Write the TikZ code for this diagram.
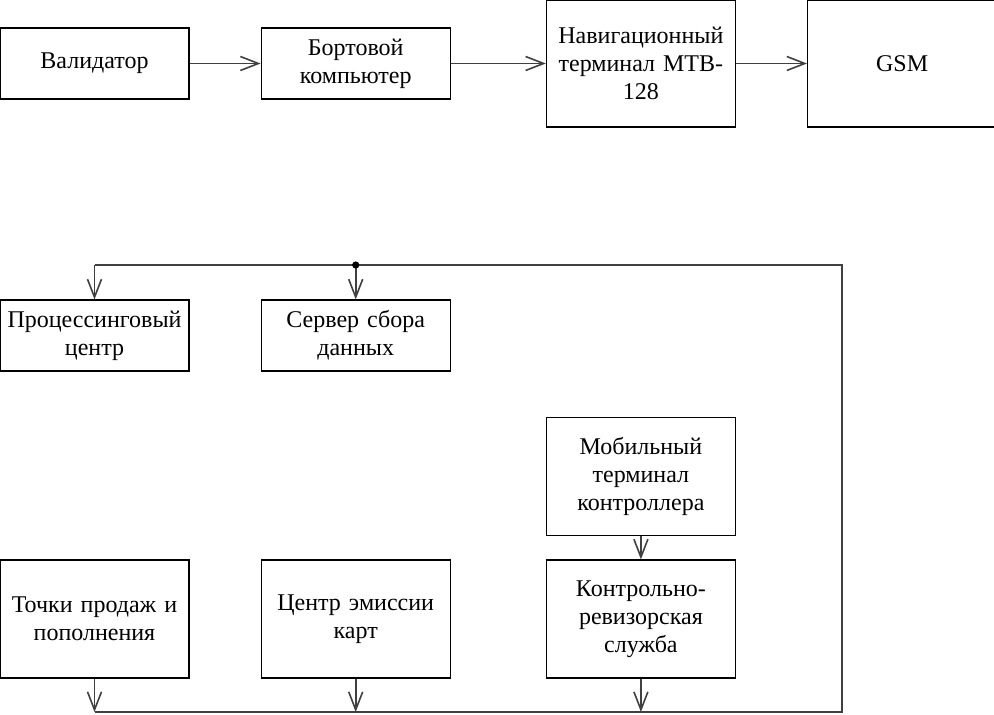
\documentclass[tikz,border=0pt]{standalone}
\usepackage{fontspec}
\setmainfont{Liberation Serif}
\usetikzlibrary{positioning,arrows.meta}
\begin{document}
\begin{tikzpicture}[x=0.5pt,y=-0.5pt,>={Straight Barb[length=9pt,width=7pt]},
                    node distance=35.5pt,
                    box/.style={draw,line width=0.6pt,align=center,text width=90pt,
                      inner sep=2.25pt,minimum height=35.5pt,font=\fontsize{12}{14}\selectfont},
                    tall box/.style={box,minimum height=63.5pt},
                    mid box/.style={box,minimum height=59pt},
                    wire/.style={draw=black!75,line width=0.8pt}]

        \useasboundingbox (0,0) rectangle (994,715);

        % Define vertices
        \node[box] (valid) at (94.5,63.5) {Валидатор};
        \node[box] (bort) [right=of valid] {Бортовой\\компьютер};
        \node[tall box] (nav) [right=47.5pt of bort] {Навигационный\\терминал МТВ-\\128};
        \node[tall box] (gsm) [right=of nav] {GSM};

        \node[box] (proc) at (94.5,335.5) {Процессинговый\\центр};
        \node[box] (server) [right=of proc] {Сервер сбора\\данных};

        \node[mid box] (tochki) at (94.5,619) {Точки продаж и\\пополнения};
        \node[mid box] (emis) [right=of tochki] {Центр эмиссии\\карт};
        \node[mid box] (kontrol) [right=47.5pt of emis] {Контрольно-\\ревизорская\\служба};
        \node[mid box] (mobil) [above=11.5pt of kontrol] {Мобильный\\терминал\\контроллера};

        \coordinate (tr) at (842,265);
        \coordinate (br) at (842,712);
        \coordinate (tl) at (proc.north |- tr);
        \coordinate (dot) at (server.north |- tr);

        % Draw edges
        \path[every edge/.append style={wire,->}]
            (valid) edge (bort)
            (bort) edge (nav)
            (nav) edge (gsm)
            (mobil) edge (kontrol)
            (tochki.south) edge (tochki.south |- br)
            (emis.south) edge (emis.south |- br)
            (kontrol.south) edge (kontrol.south |- br)
            (tl) edge (proc.north)
            (dot) edge (server.north);

        \draw[wire] (tochki.south |- br) -- (br) -- (tr) -- (tl);
        \fill[black] (dot) circle (1.8pt);

        \end{tikzpicture}
\end{document}
